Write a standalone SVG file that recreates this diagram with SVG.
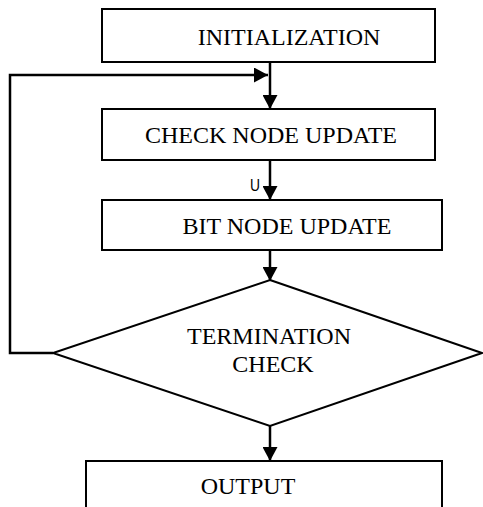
<svg xmlns="http://www.w3.org/2000/svg" width="483" height="507" viewBox="0 0 483 507">
  <style>
    .box { fill: #ffffff; stroke: #000000; stroke-width: 2; }
    .lbl { font-family: "Liberation Serif", "Times New Roman", serif; font-size: 24px; fill: #000000; text-anchor: middle; }
    .conn { fill: none; stroke: #000000; stroke-width: 2.5; }
    .small { font-family: "Liberation Sans", Arial, sans-serif; font-size: 17px; fill: #000000; }
  </style>
  <defs>
    <marker id="arrow" markerUnits="userSpaceOnUse" markerWidth="15" markerHeight="15" refX="14" refY="7.5" orient="auto">
      <path d="M0,0 L14,7.5 L0,15 Z" fill="#000000"/>
    </marker>
  </defs>
  <rect width="483" height="507" fill="#ffffff"/>

  <g id="connectors">
    <line class="conn" x1="270" y1="62" x2="270" y2="109" marker-end="url(#arrow)"/>
    <path class="conn" d="M53,353 L10,353 L10,75 L268,75" marker-end="url(#arrow)"/>
    <line class="conn" x1="270" y1="160" x2="270" y2="200" marker-end="url(#arrow)"/>
    <text class="small" x="250" y="191" textLength="10" lengthAdjust="spacingAndGlyphs">U</text>
    <line class="conn" x1="270" y1="250" x2="270" y2="281" marker-end="url(#arrow)"/>
    <line class="conn" x1="270" y1="426" x2="270" y2="461" marker-end="url(#arrow)"/>
  </g>

  <g id="initialization">
    <rect class="box" x="102" y="9" width="333" height="53"/>
    <text class="lbl" x="289" y="45">INITIALIZATION</text>
  </g>

  <g id="check-node-update">
    <rect class="box" x="102" y="109" width="333" height="51"/>
    <text class="lbl" x="271" y="143">CHECK NODE UPDATE</text>
  </g>

  <g id="bit-node-update">
    <rect class="box" x="102" y="200" width="340" height="50"/>
    <text class="lbl" x="287" y="234">BIT NODE UPDATE</text>
  </g>

  <g id="termination-check">
    <polygon class="box" points="270,280 482,353 270,426 53,353"/>
    <text class="lbl" x="269" y="344">TERMINATION</text>
    <text class="lbl" x="273" y="372">CHECK</text>
  </g>

  <g id="output">
    <rect class="box" x="86" y="461" width="356" height="60"/>
    <text class="lbl" x="248" y="494">OUTPUT</text>
  </g>
</svg>
